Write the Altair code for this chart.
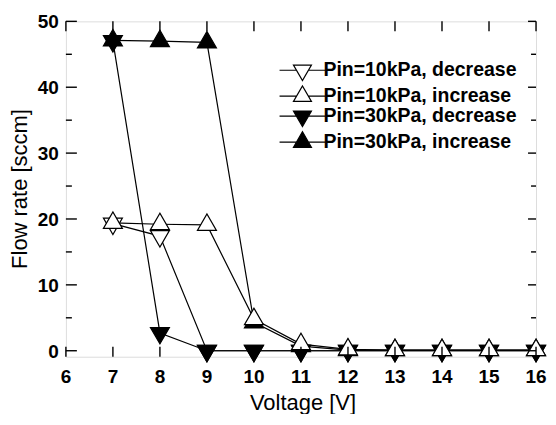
import altair as alt
import pandas as pd

voltage = [7, 8, 9, 10, 11, 12, 13, 14, 15, 16]
p10_dec = [19.3, 17.4, 0.0, 0.0, 0.0, 0.0, 0.0, 0.0, 0.0, 0.0]
p10_inc = [19.4, 19.2, 19.1, 4.8, 1.0, 0.2, 0.1, 0.1, 0.1, 0.1]
p30_dec = [47.0, 2.7, 0.0, 0.0, 0.0, 0.0, 0.0, 0.0, 0.0, 0.0]
p30_inc = [47.1, 47.0, 46.8, 4.3, 0.7, 0.1, 0.1, 0.1, 0.1, 0.1]

x_ticks = [6, 7, 8, 9, 10, 11, 12, 13, 14, 15, 16]
y_major = [0, 10, 20, 30, 40, 50]
y_minor = [5, 15, 25, 35, 45]
x_title = "Voltage [V]"
y_title = "Flow rate [sccm]"

names = ["Pin=10kPa, decrease", "Pin=10kPa, increase",
         "Pin=30kPa, decrease", "Pin=30kPa, increase"]
series_values = {names[0]: p10_dec, names[1]: p10_inc,
                 names[2]: p30_dec, names[3]: p30_inc}
draw_order = [names[3], names[0], names[2], names[1]]

rows = []
for s in draw_order:
    for v, f in zip(voltage, series_values[s]):
        rows.append({"voltage": v, "flow": f, "series": s})
df = pd.DataFrame(rows)

W, H = 471, 336

UP = "M-1,0.577L1,0.577L0,-1.155Z"
DOWN = "M-1,-0.577L1,-0.577L0,1.155Z"
LEG_UP = "M-2.55,0H-0.667M0.667,0H2.55M-1,0.577L1,0.577L0,-1.155Z"
LEG_DOWN = "M-2.55,0H-0.667M0.667,0H2.55M-1,-0.577L1,-0.577L0,1.155Z"
fills = ["white", "white", "black", "black"]
strokes = ["black", "black", "black", "black"]

FONT = "Liberation Sans"
xs = alt.Scale(domain=[6, 16], nice=False, zero=False)
ys = alt.Scale(domain=[-0.91, 50], nice=False, zero=False)

base = alt.Chart(df)

lines = base.mark_line(color="black", strokeWidth=1.2).encode(
    x=alt.X("voltage:Q", scale=xs, axis=None),
    y=alt.Y("flow:Q", scale=ys, axis=None),
    detail="series:N",
)

points = base.mark_point(filled=True, size=361, stroke="black", strokeWidth=1.2, opacity=1).encode(
    x=alt.X("voltage:Q", scale=xs, axis=None),
    y=alt.Y("flow:Q", scale=ys, axis=None),
    shape=alt.Shape("series:N", scale=alt.Scale(domain=names, range=[DOWN, UP, DOWN, UP]), legend=None),
    fill=alt.Fill("series:N", scale=alt.Scale(domain=names, range=fills), legend=None),
)

# axis ticks (inward, on all four sides), tick labels and titles
xt = alt.Chart(pd.DataFrame({"v": x_ticks}))
ymaj = alt.Chart(pd.DataFrame({"v": y_major}))
ymin = alt.Chart(pd.DataFrame({"v": y_minor}))
tick_style = dict(color="black", strokeWidth=1.4)

tick_bottom = xt.mark_rule(**tick_style).encode(
    x=alt.X("v:Q", scale=xs, axis=None), y=alt.value(H), y2=alt.value(H - 10))
tick_top = xt.mark_rule(**tick_style).encode(
    x=alt.X("v:Q", scale=xs, axis=None), y=alt.value(0), y2=alt.value(10))
tick_left_major = ymaj.mark_rule(**tick_style).encode(
    y=alt.Y("v:Q", scale=ys, axis=None), x=alt.value(0), x2=alt.value(11))
tick_left_minor = ymin.mark_rule(**tick_style).encode(
    y=alt.Y("v:Q", scale=ys, axis=None), x=alt.value(0), x2=alt.value(6))
tick_right_major = ymaj.mark_rule(**tick_style).encode(
    y=alt.Y("v:Q", scale=ys, axis=None), x=alt.value(W), x2=alt.value(W - 8))
tick_right_minor = ymin.mark_rule(**tick_style).encode(
    y=alt.Y("v:Q", scale=ys, axis=None), x=alt.value(W), x2=alt.value(W - 5))

x_labels = xt.mark_text(font=FONT, fontSize=19, fontWeight="bold", color="black",
                        align="center", baseline="alphabetic").encode(
    x=alt.X("v:Q", scale=xs, axis=None), y=alt.value(H + 26), text=alt.Text("v:Q", format="d"))
y_labels = ymaj.mark_text(font=FONT, fontSize=19, fontWeight="bold", color="black",
                          align="right", baseline="alphabetic", dy=7).encode(
    y=alt.Y("v:Q", scale=ys, axis=None), x=alt.value(-7), text=alt.Text("v:Q", format="d"))

xtitle = alt.Chart(pd.DataFrame({"t": [x_title]})).mark_text(
    font=FONT, fontSize=22, color="black", align="center", baseline="alphabetic").encode(
    x=alt.value(W / 2 + 2), y=alt.value(H + 53), text="t:N")
ytitle = alt.Chart(pd.DataFrame({"t": [y_title]})).mark_text(
    font=FONT, fontSize=22, color="black", align="center", baseline="middle", angle=270).encode(
    x=alt.value(-46), y=alt.value(H / 2), text="t:N")

leg = alt.Legend(orient="none", legendX=227, legendY=39, title=None, padding=0,
                 labelFont=FONT, labelFontSize=19.5, labelFontWeight="bold", labelColor="black",
                 labelLimit=0, labelOffset=11, symbolSize=324, symbolStrokeColor="black",
                 symbolStrokeWidth=1.2, rowPadding=0)

legend_layer = base.mark_point(filled=True, size=324, strokeWidth=1.2, opacity=1).encode(
    x=alt.X("voltage:Q", scale=xs, axis=None),
    y=alt.Y("flow:Q", scale=ys, axis=None),
    shape=alt.Shape("series:N", scale=alt.Scale(domain=names, range=[LEG_DOWN, LEG_UP, LEG_DOWN, LEG_UP]), legend=leg),
    fill=alt.Fill("series:N", scale=alt.Scale(domain=names, range=fills), legend=leg),
    stroke=alt.Stroke("series:N", scale=alt.Scale(domain=names, range=strokes), legend=leg),
).transform_filter("false")

chart = alt.layer(
    lines, points, tick_bottom, tick_top, tick_left_major, tick_left_minor,
    tick_right_major, tick_right_minor, x_labels, y_labels, xtitle, ytitle, legend_layer
).resolve_scale(
    shape="independent", fill="independent", stroke="independent"
).properties(
    width=W, height=H,
    padding={"left": 1, "top": 5, "right": 0, "bottom": 0},
).configure_view(stroke="black", strokeWidth=1.5).configure(background="white")

chart.save("out.html", embed_options={"renderer": "svg", "actions": False})
